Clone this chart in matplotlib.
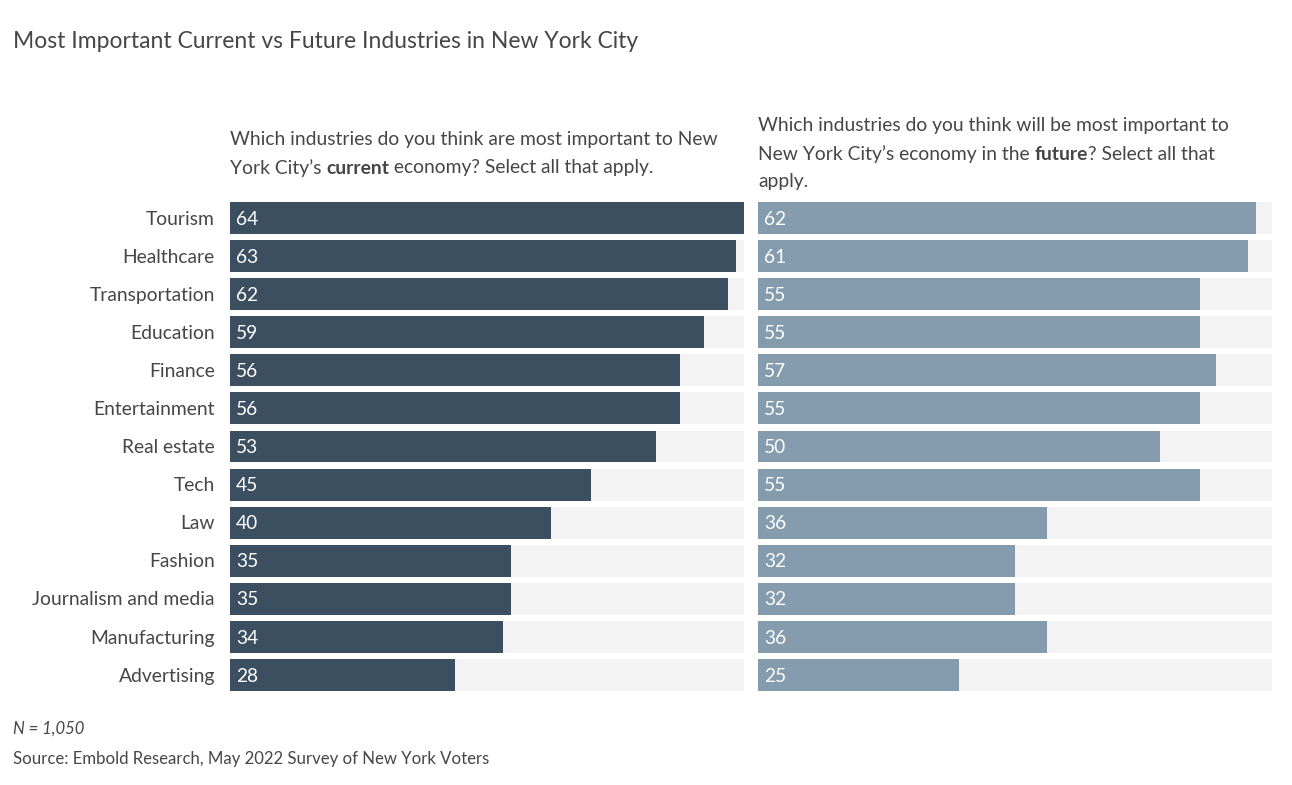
import matplotlib
matplotlib.use("Agg")
import matplotlib.pyplot as plt

# data
industries = ["Tourism", "Healthcare", "Transportation", "Education", "Finance",
              "Entertainment", "Real estate", "Tech", "Law", "Fashion",
              "Journalism and media", "Manufacturing", "Advertising"]
current = [64, 63, 62, 59, 56, 56, 53, 45, 40, 35, 35, 34, 28]
future = [62, 61, 55, 55, 57, 55, 50, 55, 36, 32, 32, 36, 25]
scale_max = 64

W, H = 1292, 785
DARK = "#3b4f61"
LIGHT = "#859bae"
TRACK = "#f3f3f3"
TEXT = "#464646"
FONT = "Lato"
BODY = 13.85

plt.rcParams['font.family'] = [FONT, 'DejaVu Sans']

fig = plt.figure(figsize=(W / 100, H / 100), dpi=100)


def px_x(x):
    return x / W


def px_y(y):
    return 1 - y / H


# axes placement (pixels): bars from x=230..744 and 758..1272, rows 218..675
top_px, bot_px = 199, 694
ax_l = fig.add_axes([px_x(230), px_y(bot_px), 514 / W, (bot_px - top_px) / H])
ax_r = fig.add_axes([px_x(758), px_y(bot_px), 514 / W, (bot_px - top_px) / H])

ypos = list(range(len(industries)))
for ax, vals, col in [(ax_l, current, DARK), (ax_r, future, LIGHT)]:
    ax.barh(ypos, [scale_max] * len(vals), height=0.84, color=TRACK, left=0)
    ax.barh(ypos, vals, height=0.84, color=col, left=0)
    for i, v in enumerate(vals):
        ax.text(0.75, i + 0.03, str(v), color="white", fontsize=13.8, va="center", ha="left")
    ax.set_xlim(0, scale_max)
    ax.set_ylim(len(vals) - 0.5, -0.5)
    ax.axis("off")

# category labels
for i, name in enumerate(industries):
    ax_l.annotate(name, xy=(0, i + 0.03), xycoords="data", xytext=(-15, 0),
                  textcoords="offset pixels", ha="right", va="center",
                  fontsize=BODY, color=TEXT)

fig.text(px_x(13), px_y(41), "Most Important Current vs Future Industries in New York City",
         fontsize=16.5, color=TEXT, va="center", ha="left")

renderer = fig.canvas.get_renderer()


def rich_line(x0, y0, parts):
    # parts: list of (text, bold)
    x = x0
    for txt, bold in parts:
        t = fig.text(px_x(x), px_y(y0), txt, fontsize=BODY, color=TEXT, va="center",
                     ha="left", fontweight="bold" if bold else "normal")
        bb = t.get_window_extent(renderer=renderer)
        x += bb.width


rich_line(230, 140, [("Which industries do you think are most important to New", False)])
rich_line(230, 168, [("York City\u2019s ", False), ("current", True),
                     (" economy? Select all that apply.", False)])

rich_line(758, 126, [("Which industries do you think will be most important to", False)])
rich_line(758, 154, [("New York City\u2019s economy in the ", False), ("future", True),
                     ("? Select all that", False)])
rich_line(758, 182, [("apply.", False)])

fig.text(px_x(13), px_y(729), "N = 1,050", fontsize=12, style="italic", color=TEXT,
         va="center", ha="left")
fig.text(px_x(13), px_y(759), "Source: Embold Research, May 2022 Survey of New York Voters",
         fontsize=12.1, color=TEXT, va="center", ha="left")

fig.savefig("out.png", dpi=100, facecolor="white")
